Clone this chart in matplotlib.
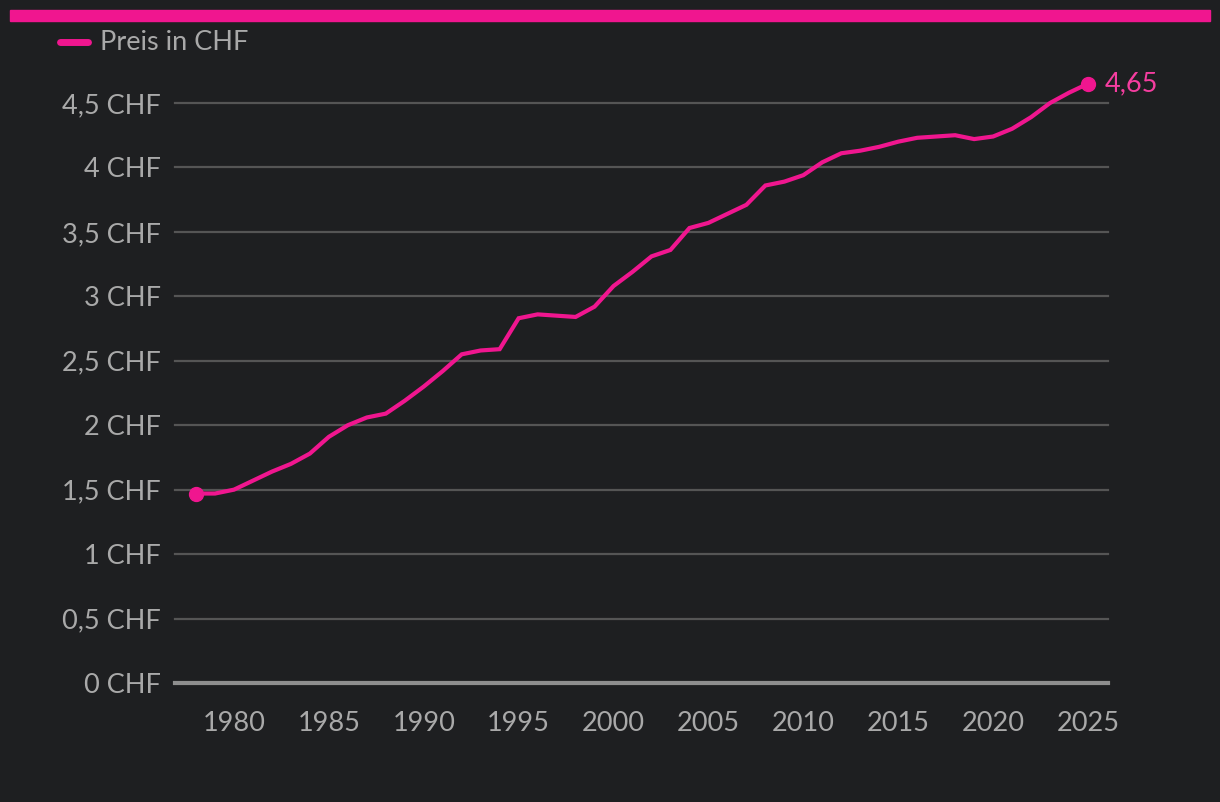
import matplotlib
matplotlib.use("Agg")
import matplotlib.pyplot as plt
from matplotlib.ticker import FixedLocator, FuncFormatter

years = list(range(1978, 2026))
prices = [1.47, 1.47, 1.50, 1.57, 1.64, 1.70, 1.78, 1.91, 2.00, 2.06,
          2.09, 2.19, 2.30, 2.42, 2.55, 2.58, 2.59, 2.83, 2.86, 2.85,
          2.84, 2.92, 3.08, 3.19, 3.31, 3.36, 3.53, 3.57, 3.64, 3.71,
          3.86, 3.89, 3.94, 4.04, 4.11, 4.13, 4.16, 4.20, 4.23, 4.24,
          4.25, 4.22, 4.24, 4.30, 4.39, 4.50, 4.58, 4.65]
y_ticks = [0, 0.5, 1, 1.5, 2, 2.5, 3, 3.5, 4, 4.5]
x_ticks = [1980, 1985, 1990, 1995, 2000, 2005, 2010, 2015, 2020, 2025]
series_label = "Preis in CHF"
end_label = "4,65"

BG = "#1e1f21"
PINK = "#f0168f"
TXT = "#a9a9a9"
GRID = "#555555"
FS = 19.5

plt.rcParams['font.family'] = ['Lato', 'DejaVu Sans']

W, H = 1220, 802
fig = plt.figure(figsize=(W / 100, H / 100), dpi=100, facecolor=BG)

# axes: x from px 175 to 1108, y=0 at px 683, y=4.5 at px 103
left, right = 175, 1108
bottom, top = 683, 103
ax = fig.add_axes([left / W, 1 - bottom / H, (right - left) / W, (bottom - top) / H])
ax.set_facecolor(BG)
ppy = (1088 - 196) / 47.0
ax.set_xlim(1978 - (196 - left) / ppy, 2025 + (right - 1088) / ppy)
ax.set_ylim(0, 4.5)

for s in ax.spines.values():
    s.set_visible(False)

ax.yaxis.set_major_locator(FixedLocator(y_ticks))
ax.xaxis.set_major_locator(FixedLocator(x_ticks))

def yfmt(v, pos):
    s = ("%g" % v).replace(".", ",")
    return s + " CHF"

ax.yaxis.set_major_formatter(FuncFormatter(yfmt))
ax.tick_params(axis='both', length=0, colors=TXT, labelsize=FS)
ax.tick_params(axis='y', pad=10)
ax.tick_params(axis='x', pad=20)

for t in y_ticks[1:]:
    ax.axhline(t, color=GRID, lw=1.6, zorder=1, clip_on=False)
ax.axhline(0, color="#8e8e8e", lw=3.0, zorder=2, clip_on=False,
           xmin=0, xmax=1.0)

ax.plot(years, prices, color=PINK, lw=3.0, zorder=3, clip_on=False,
        solid_joinstyle='miter')
ax.plot([years[0], years[-1]], [prices[0], prices[-1]], 'o', color=PINK,
        ms=10, zorder=4, clip_on=False)
ax.annotate(end_label, (years[-1], prices[-1]), xytext=(12, 0),
            textcoords='offset points', color="#f43d9f", fontsize=FS,
            va='center', ha='left', annotation_clip=False)

# top bar
fig.patches.append(plt.Rectangle((10 / W, 1 - 21 / H), 1200 / W, 11 / H,
                                 transform=fig.transFigure, color=PINK))
# legend
fig.add_artist(plt.Line2D([60 / W, 88 / W], [1 - 42 / H, 1 - 42 / H],
                          color=PINK, lw=5, solid_capstyle='round',
                          transform=fig.transFigure))
fig.text(100 / W, 1 - 42 / H, series_label, color=TXT, fontsize=FS,
         va='center', ha='left')

fig.savefig("out.png", dpi=100, facecolor=BG)
